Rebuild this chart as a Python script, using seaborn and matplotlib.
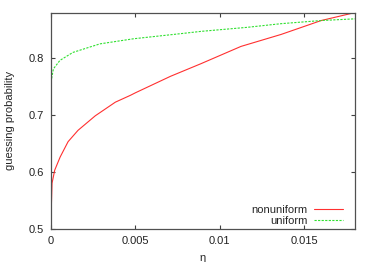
import matplotlib

matplotlib.use("Agg")
import matplotlib.pyplot as plt
import pandas as pd
import seaborn as sns

# values
eta_nonuniform = [0.0, 0.00002, 0.00006, 0.00022, 0.00054, 0.00101, 0.0016, 0.00232,
                  0.00262, 0.00381, 0.0047, 0.005, 0.00708, 0.00887, 0.01125,
                  0.01363, 0.016, 0.018]
p_nonuniform = [0.525, 0.539, 0.58, 0.603, 0.626, 0.653, 0.673, 0.691,
                0.6985, 0.7225, 0.7345, 0.739, 0.768, 0.790, 0.8205,
                0.8416, 0.866, 0.880]
eta_uniform = [0.0, 0.00014, 0.00053, 0.0013, 0.0029, 0.0049, 0.0077, 0.0089,
               0.0116, 0.01363, 0.016, 0.018]
p_uniform = [0.758, 0.781, 0.796, 0.810, 0.825, 0.834, 0.843, 0.847,
             0.854, 0.8605, 0.866, 0.869]

x_ticks = [0, 0.005, 0.01, 0.015]
x_tick_labels = ["0", "0.005", "0.01", "0.015"]
y_ticks = [0.5, 0.6, 0.7, 0.8]

df = pd.concat([
    pd.DataFrame({"eta": eta_nonuniform, "p": p_nonuniform, "series": "nonuniform"}),
    pd.DataFrame({"eta": eta_uniform, "p": p_uniform, "series": "uniform"}),
])

sns.set_theme(style="ticks")
plt.rcParams["font.family"] = ["Liberation Sans", "DejaVu Sans"]

fig = plt.figure(figsize=(3.74, 2.62), dpi=100)
ax = fig.add_axes([0.1364, 0.127, 0.949 - 0.1364, 0.952 - 0.127])

sns.lineplot(data=df, x="eta", y="p", hue="series", style="series",
             palette={"nonuniform": "#ff3030", "uniform": "#30e030"},
             dashes={"nonuniform": "", "uniform": (2, 1.2)},
             lw=0.8, ax=ax, legend=False, sort=False)

ax.set_xlim(0, 0.018)
ax.set_ylim(0.5, 0.88)
ax.set_xticks(x_ticks)
ax.set_xticklabels(x_tick_labels)
ax.set_yticks(y_ticks)
ax.tick_params(direction="in", top=True, right=True, labelsize=8, length=3,
               width=0.8, colors="#404040", labelcolor="#222222", pad=5)
for s in ax.spines.values():
    s.set_color("#505050")
    s.set_linewidth(0.9)
ax.set_xlabel("η", fontsize=8, labelpad=5)
ax.set_ylabel("guessing probability", fontsize=8, labelpad=10)

handles = [
    plt.Line2D([], [], color="#ff3030", lw=0.8),
    plt.Line2D([], [], color="#30e030", lw=0.8, dashes=(2, 1.2)),
]
leg = ax.legend(handles, ["nonuniform", "uniform"], loc="lower right", frameon=False,
                fontsize=8, markerfirst=False, handlelength=2.6, handletextpad=0.55,
                labelspacing=0.1, borderpad=0, borderaxespad=0,
                bbox_to_anchor=(0.96, 0.012))
for t in leg.get_texts():
    t.set_ha("right")
leg._legend_box.align = "right"

fig.savefig("out.png", dpi=100)
